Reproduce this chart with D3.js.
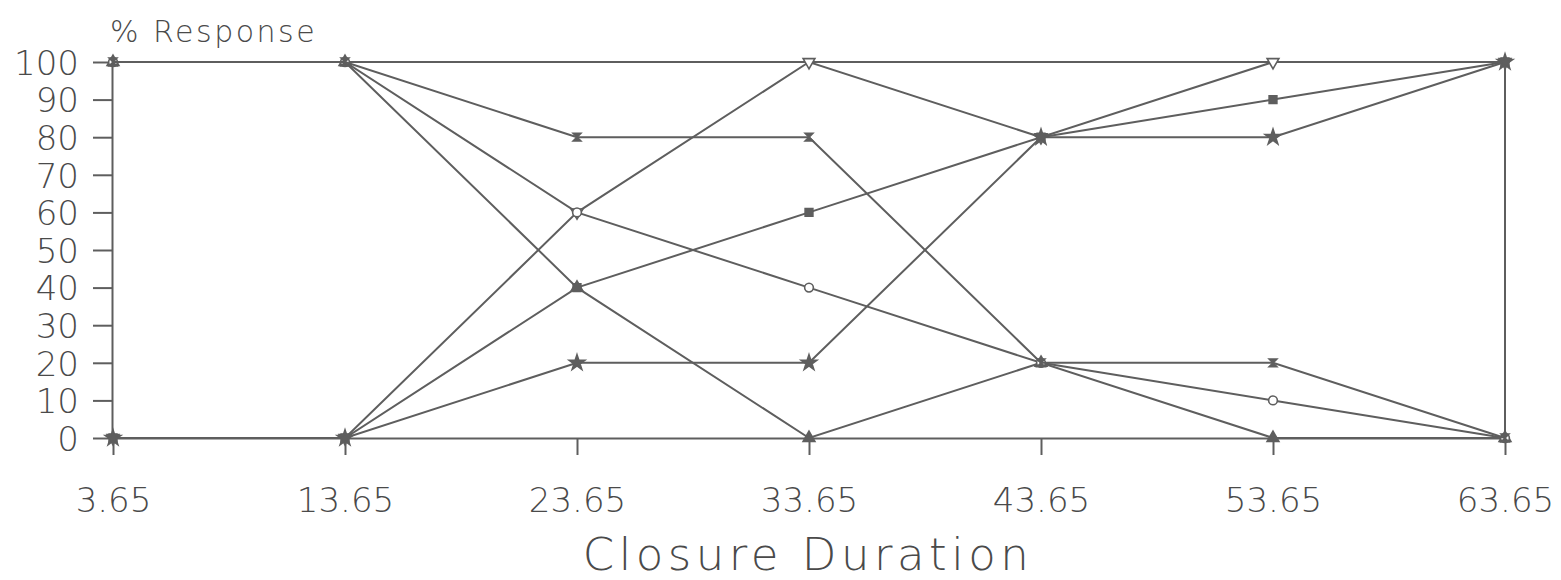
<!DOCTYPE html>
<html>
<head>
<meta charset="utf-8">
<script src="https://cdn.jsdelivr.net/npm/d3@7"></script>
<style>
  body { margin: 0; background: #fff; }
  text { font-family: "DejaVu Sans", sans-serif; fill: #4a4a4a; font-weight: 200; }
</style>
</head>
<body>
<div id="wrapper"></div>
<script>
// closure durations on the x axis
var durations = [3.65, 13.65, 23.65, 33.65, 43.65, 53.65, 63.65];
var yTicks = [0, 10, 20, 30, 40, 50, 60, 70, 80, 90, 100];

// % response, one array per series (pairs sum to 100)
var seriesA  = [100, 100, 40, 0, 20, 0, 0];
var seriesA2 = [0, 0, 60, 100, 80, 100, 100];
var seriesB  = [100, 100, 60, 40, 20, 10, 0];
var seriesB2 = [0, 0, 40, 60, 80, 90, 100];
var seriesC  = [100, 100, 80, 80, 20, 20, 0];
var seriesC2 = [0, 0, 20, 20, 80, 80, 100];

var hourglass = {
    draw: function(ctx, size) {
        var r = Math.sqrt(size) / 2;
        ctx.moveTo(-r, -r); ctx.lineTo(r, -r); ctx.lineTo(-r, r); ctx.lineTo(r, r); ctx.closePath();
    }
}

var series = [
    {values: seriesA,  symbol: d3.symbolTriangle, fill: true},
    {values: seriesA2, symbol: d3.symbolTriangle, fill: false, flip: true},
    {values: seriesB,  symbol: d3.symbolCircle,   fill: false},
    {values: seriesB2, symbol: d3.symbolSquare,   fill: true},
    {values: seriesC,  symbol: hourglass,         fill: true},
    {values: seriesC2, symbol: d3.symbolStar,     fill: true}
]

var width = 1561;
var height = 580;
var color = "#5e5e5e";

var svg = d3.select("#wrapper").append("svg")
    .attr("width", width)
    .attr("height", height)

var x = d3.scaleLinear().domain([3.65, 63.65]).range([113, 1505]);
var y = d3.scaleLinear().domain([0, 100]).range([438, 62]);

var xAxis = svg.append("g")
    .attr("transform", "translate(0," + y(0) + ")")
    .call(d3.axisBottom(x).tickValues(durations).tickSize(17).tickSizeOuter(0)
        .tickPadding(33).tickFormat(d3.format(".2f")))
var yAxis = svg.append("g")
    .attr("transform", "translate(" + (x(3.65) - 1) + ",0)")
    .call(d3.axisLeft(y).tickValues(yTicks).tickSize(19).tickSizeOuter(0).tickPadding(14))

svg.selectAll(".domain, .tick line").attr("stroke", color).attr("stroke-width", 2)
xAxis.selectAll("text").style("font-size", "34px").attr("fill", "#4a4a4a")
yAxis.selectAll("text").style("font-size", "34px")
    .attr("dy", "0.36em").attr("fill", "#4a4a4a")

// frame: top edge and right edge
svg.append("path")
    .attr("d", d3.line()([[x(3.65), y(100)], [x(63.65), y(100)], [x(63.65), y(0)]]))
    .attr("fill", "none")
    .attr("stroke", color).attr("stroke-width", 2)

var line = d3.line()
    .x(function(d, i) { return x(durations[i]) })
    .y(function(d) { return y(d) })

series.forEach(function(s) {
    svg.append("path")
        .attr("d", line(s.values))
        .attr("fill", "none")
        .attr("stroke", color)
        .attr("stroke-width", 2)
    var sym = d3.symbol().type(s.symbol).size(s.symbol === d3.symbolStar ? 75 : 60)
    svg.selectAll(null).data(s.values).enter().append("path")
        .attr("d", sym)
        .attr("transform", function(d, i) {
            return "translate(" + x(durations[i]) + "," + y(d) + ")" + (s.flip ? " rotate(180)" : "")
        })
        .attr("fill", s.fill ? color : "#fff")
        .attr("stroke", color)
        .attr("stroke-width", 1.6)
})

svg.append("text")
    .attr("x", 110)
    .attr("y", 42)
    .style("font-size", "30px")
    .style("letter-spacing", "2.5px")
    .text("% Response")

svg.append("text")
    .attr("x", 808)
    .attr("y", 570)
    .attr("text-anchor", "middle")
    .style("font-size", "45px")
    .style("letter-spacing", "4.5px")
    .text("Closure Duration")
</script>
</body>
</html>
